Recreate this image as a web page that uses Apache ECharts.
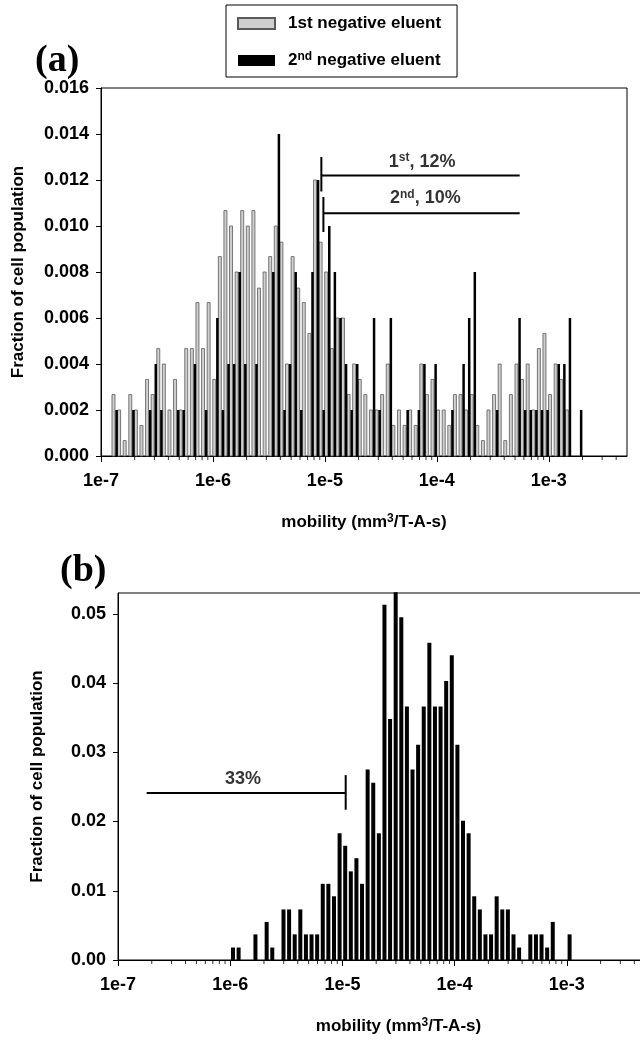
<!DOCTYPE html>
<html>
<head>
<meta charset="utf-8">
<title>Cell mobility histograms</title>
<script src="https://cdn.jsdelivr.net/npm/echarts@6/dist/echarts.min.js"></script>
<style>
  html, body { margin: 0; padding: 0; background: #fff; overflow: hidden; }
  #chart { width: 700px; height: 1040px; }
</style>
</head>
<body>
<div id="chart"></div>
<script>
// histogram bins are 0.05 decade wide (20 per decade)
const binLog = 0.05;
const startA = -7; // first bin of panel (a) starts at 1e-7
const startB = -6; // first bin of panel (b) starts at 1e-6

// panel (a), fraction of cell population per bin
const firstEluent = [
  0, 0, 0.00267, 0.002, 0.00067, 0.00267, 0.002, 0.00133, 0.00333, 0.00267,
  0.00467, 0.004, 0.002, 0.00333, 0.002, 0.00467, 0.00467, 0.00667, 0.00467, 0.00667,
  0.00333, 0.00867, 0.01067, 0.01, 0.008, 0.01067, 0.01, 0.01067, 0.0073, 0.008,
  0.00867, 0.01, 0.0093, 0.004, 0.00867, 0.0073, 0.00667, 0.00533, 0.012, 0.0093,
  0.008, 0.00467, 0.006, 0.006, 0.00267, 0.004, 0.00333, 0.00267, 0.002, 0.002,
  0.00267, 0.004, 0.00133, 0.002, 0.00133, 0.002, 0.00133, 0.004, 0.00267, 0.00333,
  0.002, 0.002, 0.00133, 0.00267, 0.00267, 0.002, 0.00267, 0.00133, 0.00067, 0.002,
  0.00267, 0.004, 0.00067, 0.00267, 0.004, 0.00333, 0.004, 0.002, 0.00467, 0.00533,
  0.00267, 0.004, 0.00333, 0.002, 0, 0
];
const secondEluent = [
  0, 0, 0.002, 0, 0, 0.002, 0, 0, 0.002, 0.004,
  0.002, 0, 0, 0.002, 0.002, 0, 0.004, 0, 0.002, 0,
  0.006, 0.002, 0.004, 0.004, 0.008, 0.004, 0, 0.004, 0, 0,
  0.008, 0.014, 0.002, 0.004, 0.008, 0.002, 0, 0.008, 0.012, 0.002,
  0.01, 0.008, 0.006, 0.004, 0.002, 0.004, 0, 0, 0.006, 0.002,
  0, 0.006, 0, 0, 0.002, 0, 0.002, 0.004, 0, 0.004,
  0, 0, 0.002, 0, 0.004, 0.006, 0.008, 0, 0, 0,
  0.002, 0, 0, 0, 0.006, 0.002, 0.002, 0.002, 0.002, 0.002,
  0, 0.004, 0.004, 0.006, 0, 0.002
];

// panel (b)
const fractionB = [
  0.0018, 0.0018, 0, 0, 0.0037, 0, 0.0055, 0.0018, 0, 0.0073,
  0.0073, 0.0037, 0.0073, 0.0037, 0.0037, 0.0037, 0.011, 0.011, 0.0092, 0.0183,
  0.0165, 0.0128, 0.0147, 0.011, 0.0275, 0.0256, 0.0183, 0.0513, 0.0348, 0.0531,
  0.0495, 0.0366, 0.0275, 0.0311, 0.0366, 0.0458, 0.0366, 0.0366, 0.0403, 0.044,
  0.0311, 0.0201, 0.0183, 0.0092, 0.0073, 0.0037, 0.0037, 0.0092, 0.0073, 0.0073,
  0.0037, 0.0018, 0, 0.0037, 0.0037, 0.0037, 0.0018, 0.0055, 0, 0,
  0.0037
];

// annotation lines, [mobility, fraction]
const firstCut = [[9.3e-6, 0.0122], [5.5e-4, 0.0122]];
const firstCutTick = [[9.3e-6, 0.013], [9.3e-6, 0.0115]];
const secondCut = [[9.7e-6, 0.01055], [5.5e-4, 0.01055]];
const secondCutTick = [[9.7e-6, 0.01126], [9.7e-6, 0.00974]];
const cutB = [[1.8e-7, 0.0241], [1.07e-5, 0.0241]];
const cutBTick = [[1.07e-5, 0.0267], [1.07e-5, 0.0217]];

function toPoints(values, start) {
  const pts = [];
  values.forEach(function (v, i) {
    if (v > 0) pts.push([Math.pow(10, start + binLog * (i + 0.5)), v]);
  });
  return pts;
}

function minorTicks(fromExp, toExp) {
  const pts = [];
  for (let e = fromExp; e < toExp; e++) {
    for (let m = 2; m <= 9; m++) pts.push([m * Math.pow(10, e), 0]);
  }
  return pts;
}

function barItem(width, shift) {
  return function (params, api) {
    const top = api.coord([api.value(0), api.value(1)]);
    const base = api.coord([api.value(0), 0]);
    return {
      type: 'rect',
      shape: { x: top[0] + shift - width / 2, y: top[1], width: width, height: base[1] - top[1] },
      style: api.style()
    };
  };
}

const font = 'Liberation Sans';
const labelStyle = { color: '#000', fontFamily: font, fontWeight: 'bold', fontSize: 18 };
const supStyle = { fontFamily: font, fontWeight: 'bold', fontSize: 12, color: '#000', verticalAlign: 'top', padding: [0, 0, 7, 0] };
const axisLine = { show: true, lineStyle: { color: '#000', width: 1 } };

function logAxis(gridIndex, max) {
  return {
    type: 'log', logBase: 10, gridIndex: gridIndex, min: 1e-7, max: max,
    name: 'mobility (mm{sup|3}/T-A-s)', nameLocation: 'middle', nameGap: 57,
    nameTextStyle: { color: '#000', fontFamily: font, fontWeight: 'bold', fontSize: 17, rich: { sup: supStyle } },
    axisLine: axisLine,
    axisTick: { show: true, inside: false, length: 6, lineStyle: { color: '#000' } },
    axisLabel: Object.assign({ margin: 16, showMaxLabel: false,
      formatter: function (v) { return '1e' + Math.round(Math.log10(v)); } }, labelStyle),
    splitLine: { show: false }
  };
}

function fracAxis(gridIndex, max, interval, digits, gap) {
  return {
    type: 'value', gridIndex: gridIndex, min: 0, max: max, interval: interval,
    name: 'Fraction of cell population', nameLocation: 'middle', nameGap: gap,
    nameTextStyle: { color: '#000', fontFamily: font, fontWeight: 'bold', fontSize: 17 },
    axisLine: axisLine,
    axisTick: { show: true, inside: false, length: 5, lineStyle: { color: '#000' } },
    axisLabel: Object.assign({ margin: 12, showMaxLabel: digits === 3,
      formatter: function (v) { return v.toFixed(digits); } }, labelStyle),
    splitLine: { show: false }
  };
}

function lineSeries(data, xi, width) {
  return {
    type: 'line', xAxisIndex: xi, yAxisIndex: xi, data: data, symbol: 'none', silent: true,
    lineStyle: { color: '#000', width: width }, z: 5
  };
}

function textSeries(xi, pos, text) {
  return {
    type: 'scatter', xAxisIndex: xi, yAxisIndex: xi, symbolSize: 0, silent: true,
    data: [pos],
    label: { show: true, position: 'inside', formatter: text,
      color: '#000', fontFamily: font, fontWeight: 'bold', fontSize: 18, rich: { sup: supStyle } }
  };
}

const chart = echarts.init(document.getElementById('chart'), null, { renderer: 'canvas' });

chart.setOption({
  animation: false,
  backgroundColor: '#fff',
  grid: [
    { left: 101, right: 73, top: 88, bottom: 584, show: true, borderColor: '#000', borderWidth: 1 },
    { left: 118, right: 21, top: 593, bottom: 80, show: true, borderColor: '#000', borderWidth: 1 }
  ],
  xAxis: [logAxis(0, 5e-3), logAxis(1, 1e-2)],
  yAxis: [fracAxis(0, 0.016, 0.002, 3, 74), fracAxis(1, 0.053, 0.01, 2, 72)],
  legend: {
    left: 226, top: 5, orient: 'vertical', icon: 'rect', itemWidth: 37, itemHeight: 11, itemGap: 19,
    padding: [10, 16, 8, 11], borderColor: '#000', borderWidth: 1,
    data: ['1st negative eluent', '2nd negative eluent'],
    textStyle: { color: '#000', fontFamily: font, fontWeight: 'bold', fontSize: 17, padding: [0, 0, 0, 8], rich: { sup: supStyle } },
    formatter: function (name) {
      return name === '2nd negative eluent' ? '2{sup|nd} negative eluent' : name;
    }
  },
  graphic: [
    { type: 'text', left: 35, top: 42, style: { text: '(a)', font: 'bold 38px "Liberation Serif"', fill: '#000' } },
    { type: 'text', left: 60, top: 552, style: { text: '(b)', font: 'bold 38px "Liberation Serif"', fill: '#000' } }
  ],
  series: [
    {
      name: '1st negative eluent', type: 'custom', xAxisIndex: 0, yAxisIndex: 0,
      renderItem: barItem(3, -1.5), data: toPoints(firstEluent, startA),
      itemStyle: { color: '#cfcfcf', borderColor: '#5a5a5a', borderWidth: 0.8 }
    },
    {
      name: '2nd negative eluent', type: 'custom', xAxisIndex: 0, yAxisIndex: 0,
      renderItem: barItem(2.5, 1.6), data: toPoints(secondEluent, startA),
      itemStyle: { color: '#000' }
    },
    {
      type: 'custom', xAxisIndex: 1, yAxisIndex: 1,
      renderItem: barItem(4, 0), data: toPoints(fractionB, startB),
      itemStyle: { color: '#000' }
    },
    {
      type: 'scatter', xAxisIndex: 0, yAxisIndex: 0, data: minorTicks(-7, -2).filter(function (p) { return p[0] < 5e-3; }),
      symbol: 'rect', symbolSize: [1, 4], symbolOffset: [0, 2], clip: false, silent: true,
      itemStyle: { color: '#000' }
    },
    {
      type: 'scatter', xAxisIndex: 1, yAxisIndex: 1, data: minorTicks(-7, -2),
      symbol: 'rect', symbolSize: [1, 4], symbolOffset: [0, 2], clip: false, silent: true,
      itemStyle: { color: '#000' }
    },
    lineSeries(firstCut, 0, 2), lineSeries(firstCutTick, 0, 2),
    lineSeries(secondCut, 0, 2), lineSeries(secondCutTick, 0, 2),
    lineSeries(cutB, 1, 2), lineSeries(cutBTick, 1, 2),
    textSeries(0, [7.4e-5, 0.0128], '1{sup|st}, 12%'),
    textSeries(0, [7.9e-5, 0.0112], '2{sup|nd}, 10%'),
    textSeries(1, [1.3e-6, 0.0262], '33%')
  ]
});
</script>
</body>
</html>
